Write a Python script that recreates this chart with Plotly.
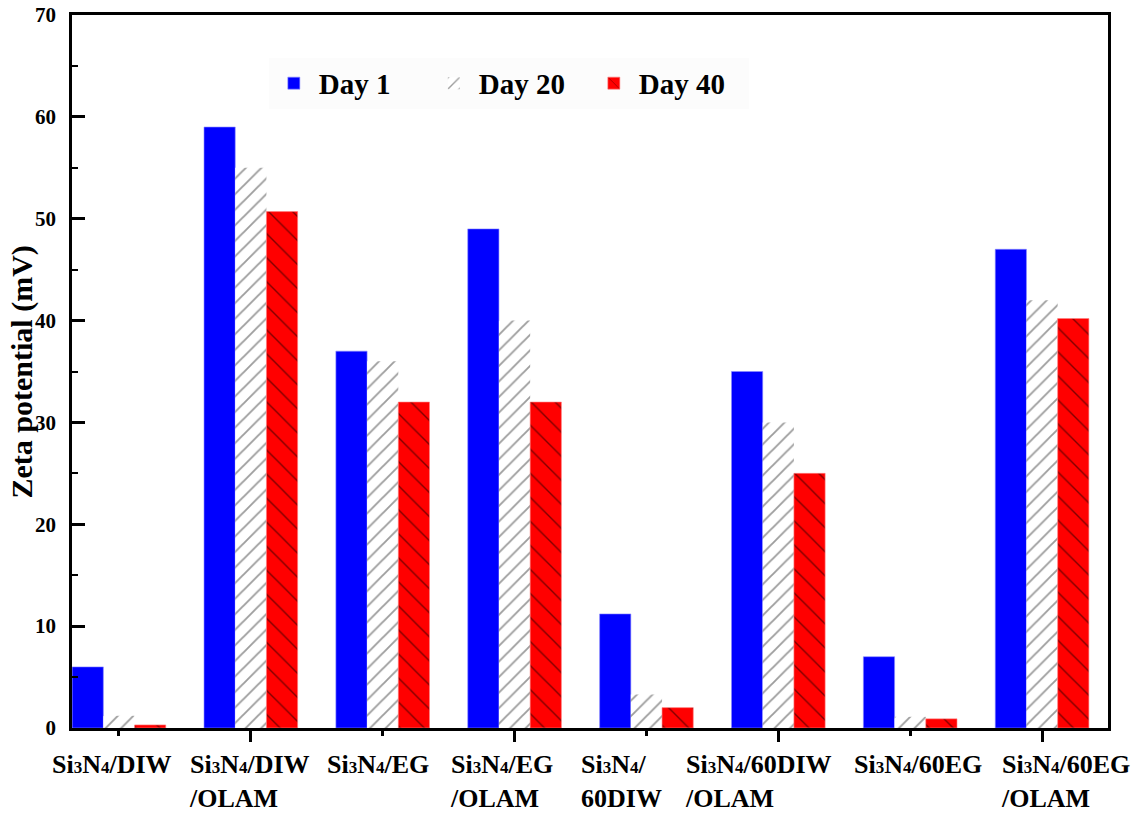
import plotly.graph_objects as go

SUB = "<span style='font-size:17px'>{}</span>"
SN = "Si" + SUB.format("3") + "N" + SUB.format("4")

categories = [
    SN + "/DIW",
    SN + "/DIW<br>/OLAM",
    SN + "/EG",
    SN + "/EG<br>/OLAM",
    SN + "/<br>60DIW",
    SN + "/60DIW<br>/OLAM",
    SN + "/60EG",
    SN + "/60EG<br>/OLAM",
]
x_pos = [0, 1, 2, 3, 4, 5, 6, 7]
series_names = ["Day 1", "Day 20", "Day 40"]
day1 = [6.0, 59.0, 37.0, 49.0, 11.2, 35.0, 7.0, 47.0]
day20 = [1.2, 55.0, 36.0, 40.0, 3.3, 30.0, 1.1, 42.0]
day40 = [0.3, 50.7, 32.0, 32.0, 2.0, 25.0, 0.9, 40.2]
y_ticks = [0, 10, 20, 30, 40, 50, 60, 70]
y_title = "Zeta potential (mV)"

# horizontal pixel offset of each category label's left edge from its tick
label_shift = [-69, -64, -58, -67, -67, -95, -58, -43]

FONT = "Liberation Serif, Times New Roman, serif"

fig = go.Figure()
fig.add_trace(go.Bar(
    x=x_pos, y=day1, name=series_names[0],
    marker=dict(color="#0000ff", line=dict(width=0.6, color="#8c8cff")),
))
fig.add_trace(go.Bar(
    x=x_pos, y=day20, name=series_names[1],
    marker=dict(color="white", line=dict(width=0),
                pattern=dict(shape="/", fgcolor="#3c3c3c", bgcolor="white",
                             size=11, solidity=0.17)),
))
fig.add_trace(go.Bar(
    x=x_pos, y=day40, name=series_names[2],
    marker=dict(color="#ff0000", line=dict(width=0.6, color="#ff8080"),
                pattern=dict(shape="\\", fgcolor="#000000", bgcolor="#ff0000",
                             size=17, solidity=0.08)),
))
# empty trace to carry the second x axis (long ticks)
fig.add_trace(go.Scatter(x=[], y=[], xaxis="x2", showlegend=False, hoverinfo="skip"))

annotations = [dict(
    text=y_title, xref="paper", yref="paper", x=-0.0483, y=0.5,
    xanchor="center", yanchor="middle", textangle=-90, showarrow=False,
    font=dict(family=FONT, size=30, color="black", weight="bold"),
)]
for xv, lab, sh in zip(x_pos, categories, label_shift):
    annotations.append(dict(
        text=lab, x=xv, xref="x", y=0, yref="paper",
        xanchor="left", yanchor="top", align="left",
        xshift=sh, yshift=-20, showarrow=False,
        font=dict(family=FONT, size=26, color="black", weight="bold"),
    ))

xr = [-0.356, 7.5]
fig.update_layout(
    width=1141, height=814,
    margin=dict(l=72, r=33, t=15, b=86, autoexpand=False),
    paper_bgcolor="white", plot_bgcolor="white",
    barmode="group", bargap=0.29, bargroupgap=0,
    font=dict(family=FONT, color="black", weight="bold"),
    showlegend=True,
    legend=dict(
        orientation="h", x=0.19, xanchor="left", y=0.94, yanchor="top",
        font=dict(family=FONT, size=29, color="black", weight="bold"),
        bgcolor="#fcfcfc", itemwidth=40, entrywidth=105, entrywidthmode="pixels",
        traceorder="normal",
    ),
    xaxis=dict(
        range=xr, tickmode="array", tickvals=x_pos, showticklabels=False,
        ticks="outside", ticklen=5, tickwidth=2.5, tickcolor="black",
        showline=True, linewidth=2.5, linecolor="black", mirror=True,
        showgrid=False, zeroline=False,
    ),
    xaxis2=dict(
        range=xr, overlaying="x", anchor="y", side="bottom",
        tickmode="array", tickvals=[1, 3, 5, 7], showticklabels=False,
        ticks="outside", ticklen=13, tickwidth=2.5, tickcolor="black",
        showline=False, showgrid=False, zeroline=False,
    ),
    yaxis=dict(
        range=[0, 70], tickmode="array", tickvals=y_ticks,
        ticks="inside", ticklen=13, tickwidth=2.5, tickcolor="black",
        minor=dict(dtick=5, ticks="inside", ticklen=6, tickwidth=2, tickcolor="black"),
        showline=True, linewidth=2.5, linecolor="black", mirror=True,
        showgrid=False, zeroline=False, ticklabelstandoff=9,
        ticklabeloverflow="allow",
        tickfont=dict(family=FONT, size=21, color="black", weight="bold"),
    ),
    annotations=annotations,
)

fig.write_html(
    "out.html",
    config={"displayModeBar": False},
    post_script="document.body.style.margin='0';document.body.style.overflow='hidden';",
)
